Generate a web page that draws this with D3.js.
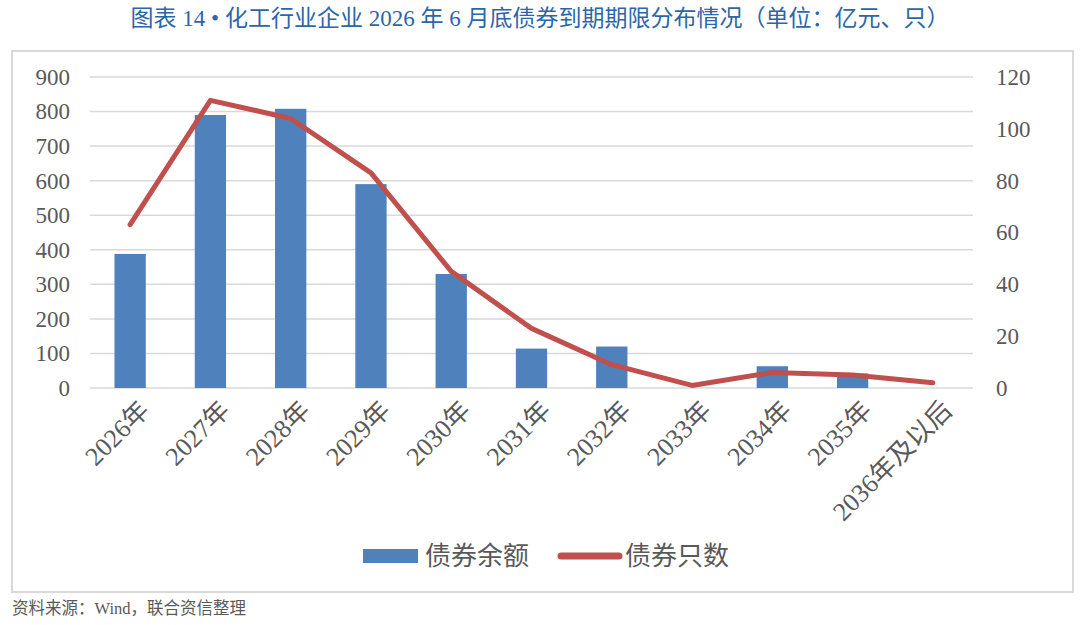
<!DOCTYPE html>
<html>
<head>
<meta charset="utf-8">
<script src="https://cdn.jsdelivr.net/npm/d3@7"></script>
<style>
  body { margin: 0; background: #fff; }
  svg { display: block; }
</style>
</head>
<body>
<div id="chart"></div>
<script>
// 年份类别
const categories = ['2026年', '2027年', '2028年', '2029年', '2030年', '2031年', '2032年', '2033年', '2034年', '2035年', '2036年及以后'];
// 债券余额（亿元）
const amounts = [388, 790, 808, 590, 330, 114, 120, 0, 63, 42, 0];
// 债券只数（只）
const counts = [63, 111, 104, 83, 45, 23, 9, 1, 6, 5, 2];
const leftTicks = [0, 100, 200, 300, 400, 500, 600, 700, 800, 900];
const rightTicks = [0, 20, 40, 60, 80, 100, 120];

const width = 1080, height = 625;
const serif = "'Liberation Serif', 'DejaVu Serif', 'Noto Sans CJK SC', serif";
const cjk = "'Liberation Serif', 'Noto Sans CJK SC', serif";

const svg = d3.select('#chart')
  .append('svg')
  .attr('width', width)
  .attr('height', height);

// 标题
svg.append('text')
  .attr('x', 540)
  .attr('y', 26)
  .attr('text-anchor', 'middle')
  .attr('fill', '#2b66aa')
  .attr('font-family', cjk)
  .attr('font-size', 23)
  .text('图表 14 • 化工行业企业 2026 年 6 月底债券到期期限分布情况（单位：亿元、只）');

// 外框
svg.append('rect')
  .attr('x', 12)
  .attr('y', 51)
  .attr('width', 1061)
  .attr('height', 541)
  .attr('fill', 'none')
  .attr('stroke', '#d9d9d9')
  .attr('stroke-width', 2);

const plot = { left: 90, right: 973, top: 77, bottom: 388 };

const x = d3.scaleBand()
  .domain(categories)
  .range([plot.left, plot.right])
  .paddingInner(0.61)
  .paddingOuter(0.305);

const yL = d3.scaleLinear().domain([0, 900]).range([plot.bottom, plot.top]);
const yR = d3.scaleLinear().domain([0, 120]).range([plot.bottom, plot.top]);

// 网格线
svg.append('g')
  .selectAll('line')
  .data(leftTicks)
  .enter()
  .append('line')
  .attr('x1', plot.left)
  .attr('x2', plot.right)
  .attr('y1', d => yL(d))
  .attr('y2', d => yL(d))
  .attr('stroke', '#d9d9d9')
  .attr('stroke-width', 1.5);

// 左轴
const axisL = svg.append('g')
  .attr('transform', `translate(${plot.left - 20},0)`)
  .call(d3.axisLeft(yL).tickValues(leftTicks).tickSize(0).tickPadding(0));
axisL.attr('font-family', serif).attr('font-size', 23);
axisL.select('.domain').remove();
axisL.selectAll('text').attr('fill', '#595959');

// 右轴
const axisR = svg.append('g')
  .attr('transform', `translate(${plot.right + 23},0)`)
  .call(d3.axisRight(yR).tickValues(rightTicks).tickSize(0).tickPadding(0));
axisR.attr('font-family', serif).attr('font-size', 23);
axisR.select('.domain').remove();
axisR.selectAll('text').attr('fill', '#595959');

// 柱子
svg.append('g')
  .selectAll('rect')
  .data(categories)
  .enter()
  .append('rect')
  .attr('x', d => x(d))
  .attr('width', x.bandwidth())
  .attr('y', (d, i) => yL(amounts[i]))
  .attr('height', (d, i) => plot.bottom - yL(amounts[i]))
  .attr('fill', '#4f81bd');

// 折线
const line = d3.line()
  .x((d, i) => x(categories[i]) + x.bandwidth() / 2)
  .y(d => yR(d));

svg.append('path')
  .datum(counts)
  .attr('d', line)
  .attr('fill', 'none')
  .attr('stroke', '#c0504d')
  .attr('stroke-width', 5)
  .attr('stroke-linejoin', 'round')
  .attr('stroke-linecap', 'round');

// X轴标签（倾斜）
svg.append('g')
  .selectAll('text')
  .data(categories)
  .enter()
  .append('text')
  .attr('transform', d => `translate(${x(d) + x.bandwidth() / 2 + 8},${plot.bottom + 11}) rotate(-45)`)
  .attr('text-anchor', 'end')
  .attr('dy', '0.7em')
  .attr('fill', '#595959')
  .attr('font-family', cjk)
  .attr('font-size', 26)
  .text(d => d);

// 图例
const legend = svg.append('g').attr('transform', 'translate(363,556)');
legend.append('rect')
  .attr('x', 0).attr('y', -7)
  .attr('width', 55).attr('height', 14)
  .attr('fill', '#4f81bd');
legend.append('text')
  .attr('x', 62).attr('y', 0).attr('dy', '0.36em')
  .attr('fill', '#595959')
  .attr('font-family', cjk)
  .attr('font-size', 26)
  .text('债券余额');
legend.append('line')
  .attr('x1', 198).attr('x2', 256)
  .attr('y1', 0).attr('y2', 0)
  .attr('stroke', '#c0504d')
  .attr('stroke-width', 7)
  .attr('stroke-linecap', 'round');
legend.append('text')
  .attr('x', 262).attr('y', 0).attr('dy', '0.36em')
  .attr('fill', '#595959')
  .attr('font-family', cjk)
  .attr('font-size', 26)
  .text('债券只数');

// 资料来源
svg.append('text')
  .attr('x', 12)
  .attr('y', 614)
  .attr('fill', '#595959')
  .attr('font-family', cjk)
  .attr('font-size', 16.5)
  .text('资料来源：Wind，联合资信整理');
</script>
</body>
</html>
